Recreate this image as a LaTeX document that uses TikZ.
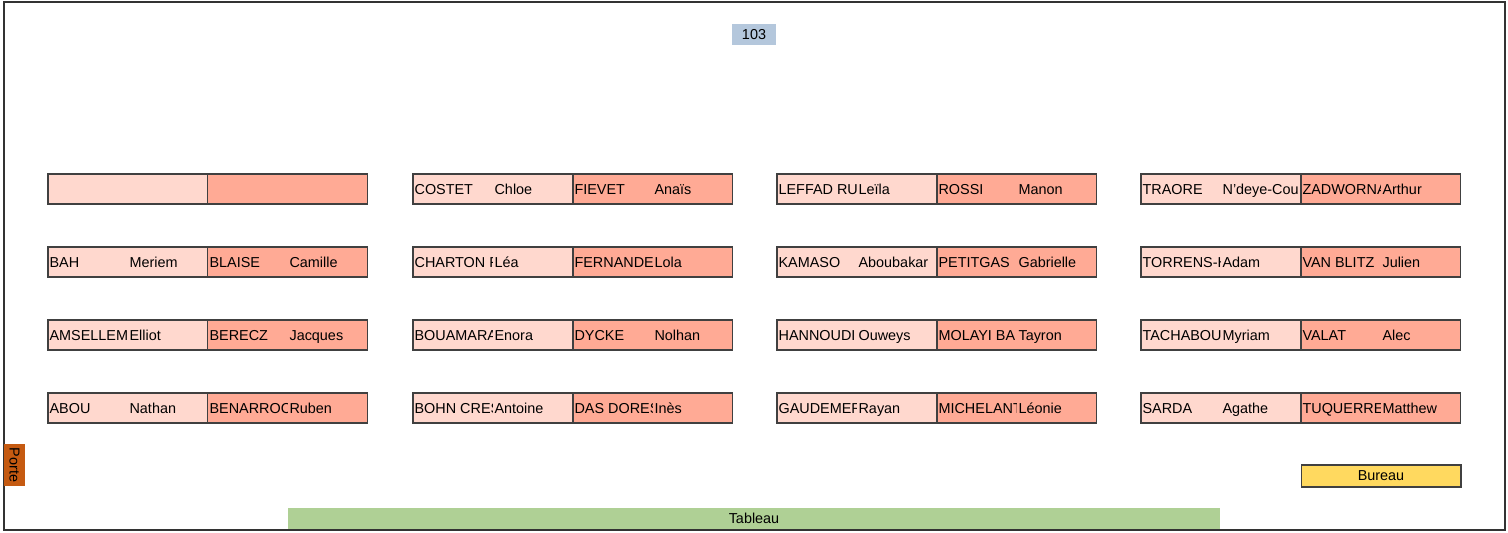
\documentclass[tikz,border=0pt]{standalone}
\usepackage{fontspec}
\setmainfont{Liberation Sans}
\usepackage{xcolor}
\usepackage{tikz}

\definecolor{seatlight}{HTML}{FFD8CE}
\definecolor{seatdark}{HTML}{FFAA95}
\definecolor{roomblue}{HTML}{B4C7DC}
\definecolor{doororange}{HTML}{C55A11}
\definecolor{deskyellow}{HTML}{FFD95F}
\definecolor{boardgreen}{HTML}{AFD095}

\tikzset{
  seat/.style={draw=black!75, line width=0.6pt, anchor=north west, inner sep=0pt, outer sep=0pt,
    minimum width=3.2cm, minimum height=0.6cm},
  seatL/.style={seat, fill=seatlight},
  seatR/.style={seat, fill=seatdark},
  namelbl/.style={anchor=base west, inner sep=0.025cm, font=\fontsize{8.2}{10}\selectfont}
}

% names of one seat, each cut to its half
\newcommand{\seatnames}[3]{%
  \begin{scope}
    \clip (#1.north west) rectangle ([xshift=1.6cm]#1.south west);
    \node[namelbl] (#1-nom) at ([yshift=-2.9pt]#1.west) {#2};
  \end{scope}
  \begin{scope}
    \clip ([xshift=1.6cm]#1.north west) rectangle (#1.south east);
    \node[namelbl] (#1-prenom) at ([xshift=1.6cm,yshift=-2.9pt]#1.west) {#3};
  \end{scope}
}
% one desk = two seats side by side
\newcommand{\desk}[7]{%
  \node[seatL] (#1l) at (#2,#3) {};
  \node[seatR] (#1r) at (#1l.north east) {};
  \seatnames{#1l}{#4}{#5}
  \seatnames{#1r}{#6}{#7}
}

\begin{document}
\begin{tikzpicture}[x=0.02cm,y=-0.02cm,font=\fontsize{8.2}{10}\selectfont]
\useasboundingbox (0,0) rectangle (1508,533);
\draw[black!80, line width=0.7pt] (4,2) rectangle (1505,530);

\node[fill=roomblue, minimum width=0.88cm, minimum height=0.42cm, inner sep=0pt] (salle) at (754,34.5) {103};

% column 1
\desk{a1}{48}{174}{}{}{}{}
\desk{a2}{48}{247}{BAH}{Meriem}{BLAISE}{Camille}
\desk{a3}{48}{320}{AMSELLEM}{Elliot}{BERECZ}{Jacques}
\desk{a4}{48}{393}{ABOU}{Nathan}{BENARROC}{Ruben}
% column 2
\desk{b1}{413}{174}{COSTET}{Chloe}{FIEVET}{Anaïs}
\desk{b2}{413}{247}{CHARTON F}{Léa}{FERNANDE}{Lola}
\desk{b3}{413}{320}{BOUAMARA}{Enora}{DYCKE}{Nolhan}
\desk{b4}{413}{393}{BOHN CRES}{Antoine}{DAS DORES}{Inès}
% column 3
\desk{c1}{777}{174}{LEFFAD RU}{Leïla}{ROSSI}{Manon}
\desk{c2}{777}{247}{KAMASO}{Aboubakar}{PETITGAS}{Gabrielle}
\desk{c3}{777}{320}{HANNOUDI}{Ouweys}{MOLAYI BA}{Tayron}
\desk{c4}{777}{393}{GAUDEMER}{Rayan}{MICHELANT}{Léonie}
% column 4
\desk{d1}{1141}{174}{TRAORE}{N'deye-Cou}{ZADWORNA}{Arthur}
\desk{d2}{1141}{247}{TORRENS-H}{Adam}{VAN BLITZ}{Julien}
\desk{d3}{1141}{320}{TACHABOU}{Myriam}{VALAT}{Alec}
\desk{d4}{1141}{393}{SARDA}{Agathe}{TUQUERRE}{Matthew}

\node[fill=doororange, rotate=-90, minimum width=0.84cm, minimum height=0.42cm, inner sep=0pt] (porte) at (14.5,465) {Porte};
\node[draw=black!75, line width=0.6pt, fill=deskyellow, minimum width=3.2cm, minimum height=0.44cm, inner sep=0pt] (bureau) at (1381,476) {Bureau};
\node[fill=boardgreen, minimum width=18.64cm, minimum height=0.42cm, inner sep=0pt] (tableau) at (754,518.5) {Tableau};
\end{tikzpicture}
\end{document}
